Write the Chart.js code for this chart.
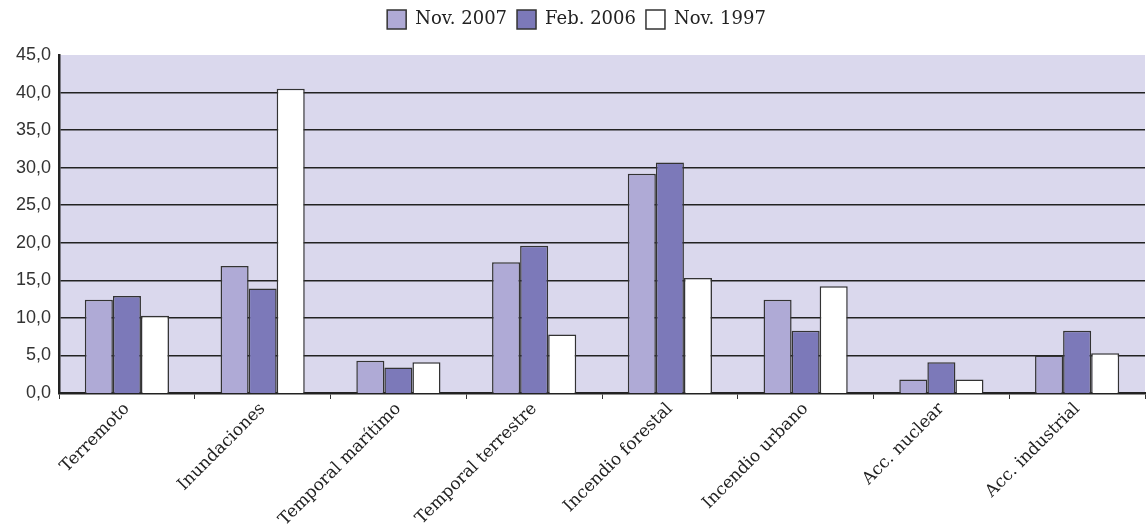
<!DOCTYPE html>
<html>
<head>
<meta charset="utf-8">
<script src="https://cdn.jsdelivr.net/npm/chart.js@4/dist/chart.umd.min.js"></script>
<style>
  html, body { margin: 0; padding: 0; background: #fff; }
  #wrap { width: 1146px; height: 530px; }
</style>
</head>
<body>
<div id="wrap"><canvas id="chart"></canvas></div>
<script>
const categorias = ['Terremoto', 'Inundaciones', 'Temporal marítimo', 'Temporal terrestre',
  'Incendio forestal', 'Incendio urbano', 'Acc. nuclear', 'Acc. industrial'];
const nov2007 = [12.4, 16.9, 4.3, 17.4, 29.2, 12.4, 1.8, 5.0];
const feb2006 = [12.9, 13.9, 3.4, 19.6, 30.7, 8.3, 4.1, 8.3];
const nov1997 = [10.3, 40.5, 4.1, 7.8, 15.3, 14.2, 1.8, 5.3];
const series = ['Nov. 2007', 'Feb. 2006', 'Nov. 1997'];

// fondo lila del area de trazado
const fondoPlot = {
  id: 'fondoPlot',
  beforeDraw(chart) {
    const a = chart.chartArea;
    const c = chart.ctx;
    c.save();
    c.fillStyle = '#dad8ed';
    c.fillRect(a.left, a.top, a.right - a.left, a.bottom - a.top);
    c.restore();
  }
};

// espacio extra debajo de la leyenda
const margenLeyenda = {
  id: 'margenLeyenda',
  beforeInit(chart) {
    const fitOrig = chart.legend.fit;
    chart.legend.fit = function () {
      fitOrig.bind(chart.legend)();
      this.height += 16;
    };
  }
};

new Chart(document.getElementById('chart'), {
  type: 'bar',
  data: {
    labels: categorias,
    datasets: [
      { label: series[0], data: nov2007, backgroundColor: '#afaad6', borderColor: '#333', borderWidth: 1.5 },
      { label: series[1], data: feb2006, backgroundColor: '#7c79b9', borderColor: '#333', borderWidth: 1.5 },
      { label: series[2], data: nov1997, backgroundColor: '#ffffff', borderColor: '#333', borderWidth: 1.5 }
    ]
  },
  plugins: [fondoPlot, margenLeyenda],
  options: {
    responsive: true,
    maintainAspectRatio: false,
    animation: false,
    categoryPercentage: 0.62,
    barPercentage: 1.0,
    layout: { padding: { left: 8, right: 1, top: 0, bottom: 0 } },
    plugins: {
      legend: {
        position: 'top',
        labels: {
          boxWidth: 19,
          boxHeight: 19,
          padding: 10,
          color: '#222',
          font: { family: 'DejaVu Serif', size: 18 }
        }
      },
      tooltip: { enabled: false }
    },
    scales: {
      x: {
        grid: {
          offset: true,
          drawOnChartArea: false,
          drawTicks: true,
          tickLength: 6,
          color: '#333'
        },
        border: { display: true, color: '#222', width: 2.5 },
        ticks: {
          maxRotation: 45,
          minRotation: 45,
          color: '#222',
          padding: 0,
          font: { family: 'DejaVu Serif', size: 17 }
        }
      },
      y: {
        min: 0,
        max: 45,
        ticks: {
          stepSize: 5,
          color: '#333',
          padding: 8,
          font: { family: 'Liberation Sans', size: 18 },
          callback: v => v.toFixed(1).replace('.', ',')
        },
        grid: {
          color: '#222',
          lineWidth: ctx => (ctx.tick && (ctx.tick.value === 0 || ctx.tick.value === 45)) ? 0 : 1.5,
          drawTicks: false
        },
        border: { display: true, color: '#222', width: 2.5 }
      }
    }
  }
});
</script>
</body>
</html>
